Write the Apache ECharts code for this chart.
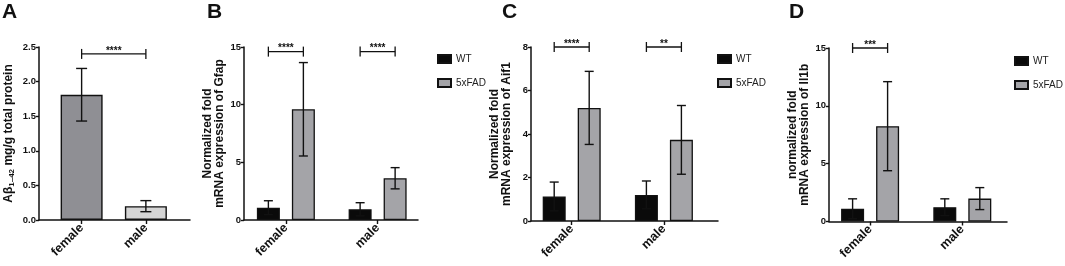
<!DOCTYPE html>
<html>
<head>
<meta charset="utf-8">
<script src="https://cdn.jsdelivr.net/npm/echarts@6/dist/echarts.min.js"></script>
<style>
  html, body { margin: 0; padding: 0; background: #fff; }
  #chart { width: 1065px; height: 266px; }
</style>
</head>
<body>
<div id="chart"></div>
<script>
const chart = echarts.init(document.getElementById('chart'))

const categories = ['female', 'male']
const groups = ['WT', '5xFAD']

// A: Abeta 1-42 protein
const abMean = [1.81, 0.20]
const abSd = [0.38, 0.08]
const abSigY = 2.4
const abSigLabel = '****'

// B: Gfap
const gfapWt = [1.07, 0.93]
const gfapWtSd = [0.6, 0.57]
const gfapFad = [9.6, 3.62]
const gfapFadSd = [4.05, 0.92]
const gfapSigY = [14.6, 14.6]
const gfapSigLabel = ['****', '****']

// C: Aif1
const aifWt = [1.13, 1.2]
const aifWtSd = [0.66, 0.64]
const aifFad = [5.2, 3.73]
const aifFadSd = [1.68, 1.58]
const aifSigY = [8.0, 8.0]
const aifSigLabel = ['****', '**']

// D: Il1b
const il1bWt = [1.1, 1.24]
const il1bWtSd = [0.86, 0.72]
const il1bFad = [8.24, 1.98]
const il1bFadSd = [3.85, 0.95]
const il1bSigY = [15.0]
const il1bSigLabel = ['***']

const FONT = '"Liberation Sans", Arial, sans-serif'
const WT_COLOR = '#0a0a0a'
const FAD_COLOR = '#a4a4a8'

// frame grid (axis lines) + plot grid (bars) per panel
const panels = [
  { frame: { left: 39, right: 875, top: 47, bottom: 46 }, plot: { left: 49.5, right: 887, top: 47, bottom: 46 }, max: 2.5, interval: 0.5, fixed: 1 },
  { frame: { left: 244, right: 647, top: 47, bottom: 46 }, plot: { left: 240, right: 641.5, top: 47, bottom: 46 }, max: 15, interval: 5, fixed: 0 },
  { frame: { left: 531, right: 347, top: 47, bottom: 45 }, plot: { left: 525.6, right: 355, top: 47, bottom: 45 }, max: 8, interval: 2, fixed: 0 },
  { frame: { left: 829, right: 58, top: 48, bottom: 44.5 }, plot: { left: 824, right: 56.6, top: 48, bottom: 44.5 }, max: 15, interval: 5, fixed: 0 }
]

const yNames = [
  '{a|Aβ}{s|1–42}{a| mg/g total protein}',
  'Normalized fold\nmRNA expression of Gfap',
  'Normalized fold\nmRNA expression of Aif1',
  'normalized fold\nmRNA expression of Il1b'
]

let grids = [], xAxes = [], yAxes = []
panels.forEach((p, i) => {
  grids.push(p.frame, p.plot)
  xAxes.push({
    gridIndex: 2 * i, type: 'value', min: 0, max: 1,
    axisLine: { show: true, lineStyle: { color: '#111', width: 1.5 } },
    axisTick: { show: false }, axisLabel: { show: false }, splitLine: { show: false }
  })
  xAxes.push({
    gridIndex: 2 * i + 1, type: 'category', data: categories,
    axisLine: { show: false },
    axisTick: { show: true, alignWithLabel: true, length: 4, lineStyle: { color: '#111', width: 1.4 } },
    axisLabel: { rotate: 45, margin: 6, color: '#111', fontWeight: 'bold', fontSize: 12.5, fontFamily: FONT },
    splitLine: { show: false }
  })
  yAxes.push({
    gridIndex: 2 * i, type: 'value', min: 0, max: p.max, interval: p.interval,
    axisLine: { show: true, lineStyle: { color: '#111', width: 1.5 } },
    axisTick: { show: true, length: 3, lineStyle: { color: '#111', width: 1.4 } },
    axisLabel: {
      margin: 3, color: '#111', fontWeight: 'bold', fontSize: 9.5, fontFamily: FONT,
      formatter: v => v.toFixed(p.fixed)
    },
    splitLine: { show: false },
    name: yNames[i], nameLocation: 'middle', nameRotate: 90,
    nameGap: i === 0 ? 24 : 18,
    nameTextStyle: {
      color: '#111', fontWeight: 'bold', fontSize: 12, fontFamily: FONT, lineHeight: 12,
      rich: {
        a: { fontWeight: 'bold', fontSize: 12, fontFamily: FONT, color: '#111' },
        s: { fontWeight: 'bold', fontSize: 8, fontFamily: FONT, color: '#111', padding: [6, 0, 0, 0] }
      }
    }
  })
  yAxes.push({ gridIndex: 2 * i + 1, type: 'value', min: 0, max: p.max, show: false })
})

function errorBars(idx, means, sds, dx, cap) {
  return {
    type: 'custom', xAxisIndex: idx, yAxisIndex: idx, z: 5, silent: true,
    data: means.map((m, c) => [c, m, sds[c]]),
    encode: { x: 0, y: 1 },
    renderItem: (params, api) => {
      const c = api.value(0), m = api.value(1), s = api.value(2)
      const top = api.coord([c, m + s]), bot = api.coord([c, m - s])
      const x = top[0] + dx
      const st = { stroke: '#111', lineWidth: 1.4 }
      return {
        type: 'group', children: [
          { type: 'line', shape: { x1: x, y1: top[1], x2: x, y2: bot[1] }, style: st },
          { type: 'line', shape: { x1: x - cap / 2, y1: top[1], x2: x + cap / 2, y2: top[1] }, style: st },
          { type: 'line', shape: { x1: x - cap / 2, y1: bot[1], x2: x + cap / 2, y2: bot[1] }, style: st }
        ]
      }
    }
  }
}

function bracketShapes(x1, x2, y, label) {
  const st = { stroke: '#111', lineWidth: 1.3 }
  return {
    type: 'group', children: [
      { type: 'line', shape: { x1: x1, y1: y, x2: x2, y2: y }, style: st },
      { type: 'line', shape: { x1: x1, y1: y - 5, x2: x1, y2: y + 5 }, style: st },
      { type: 'line', shape: { x1: x2, y1: y - 5, x2: x2, y2: y + 5 }, style: st },
      { type: 'text', x: (x1 + x2) / 2, y: y + 2,
        style: { text: label, fill: '#111', font: 'bold 10px ' + FONT, align: 'center', verticalAlign: 'bottom' } }
    ]
  }
}

// grouped brackets: from WT bar center to 5xFAD bar center within one category
function groupBrackets(idx, ys, labels, dx) {
  return {
    type: 'custom', xAxisIndex: idx, yAxisIndex: idx, z: 6, silent: true,
    data: ys.map((y, c) => [c, y, labels[c]]),
    encode: { x: 0, y: 1 },
    renderItem: (params, api) => {
      const pt = api.coord([api.value(0), api.value(1)])
      return bracketShapes(pt[0] - dx, pt[0] + dx, pt[1], labels[params.dataIndex])
    }
  }
}

function groupedPanel(i, wt, wtSd, fad, fadSd, sigY, sigLabel) {
  const idx = 2 * i + 1
  const bw = 23, gap = 12, dx = (bw + gap) / 2
  return [
    {
      name: groups[0], type: 'bar', xAxisIndex: idx, yAxisIndex: idx, data: wt,
      barWidth: bw, barGap: (gap / bw * 100) + '%',
      itemStyle: { color: WT_COLOR, borderColor: '#111', borderWidth: 1.3 }
    },
    {
      name: groups[1], type: 'bar', xAxisIndex: idx, yAxisIndex: idx, data: fad,
      barWidth: bw, barGap: (gap / bw * 100) + '%',
      itemStyle: { color: FAD_COLOR, borderColor: '#111', borderWidth: 1.3 }
    },
    errorBars(idx, wt, wtSd, -dx, 9),
    errorBars(idx, fad, fadSd, dx, 9),
    groupBrackets(idx, sigY, sigLabel, dx)
  ]
}

let series = [
  {
    name: 'Aβ', type: 'bar', xAxisIndex: 1, yAxisIndex: 1, barWidth: 42,
    data: [
      { value: abMean[0], itemStyle: { color: '#8f8f94' } },
      { value: abMean[1], itemStyle: { color: '#d5d5d5' } }
    ],
    itemStyle: { borderColor: '#111', borderWidth: 1.4 }
  },
  errorBars(1, abMean, abSd, 0, 11),
  {
    type: 'custom', xAxisIndex: 1, yAxisIndex: 1, z: 6, silent: true,
    data: [[0, abSigY]],
    encode: { x: 0, y: 1 },
    renderItem: (params, api) => {
      const p0 = api.coord([0, api.value(1)]), p1 = api.coord([1, api.value(1)])
      return bracketShapes(p0[0], p1[0], p0[1], abSigLabel)
    }
  }
]
series = series.concat(
  groupedPanel(1, gfapWt, gfapWtSd, gfapFad, gfapFadSd, gfapSigY, gfapSigLabel),
  groupedPanel(2, aifWt, aifWtSd, aifFad, aifFadSd, aifSigY, aifSigLabel),
  groupedPanel(3, il1bWt, il1bWtSd, il1bFad, il1bFadSd, il1bSigY, il1bSigLabel)
)

const legendBase = {
  data: groups, orient: 'vertical', icon: 'rect', itemWidth: 13, itemHeight: 8, itemGap: 14,
  selectedMode: false,
  textStyle: { color: '#222', fontSize: 10, fontFamily: FONT }
}

const letterStyle = { color: '#111', fontWeight: 'bold', fontSize: 21, fontFamily: FONT }

let option = {
  backgroundColor: '#fff',
  animation: false,
  title: [
    { text: 'A', left: 2, top: 2, textStyle: letterStyle, padding: 0 },
    { text: 'B', left: 207, top: 2, textStyle: letterStyle, padding: 0 },
    { text: 'C', left: 502, top: 2, textStyle: letterStyle, padding: 0 },
    { text: 'D', left: 789, top: 2, textStyle: letterStyle, padding: 0 }
  ],
  legend: [
    Object.assign({ left: 432, top: 49 }, legendBase),
    Object.assign({ left: 712, top: 49 }, legendBase),
    Object.assign({ left: 1009, top: 51 }, legendBase)
  ],
  grid: grids,
  xAxis: xAxes,
  yAxis: yAxes,
  series: series
}
chart.setOption(option)
</script>
</body>
</html>
